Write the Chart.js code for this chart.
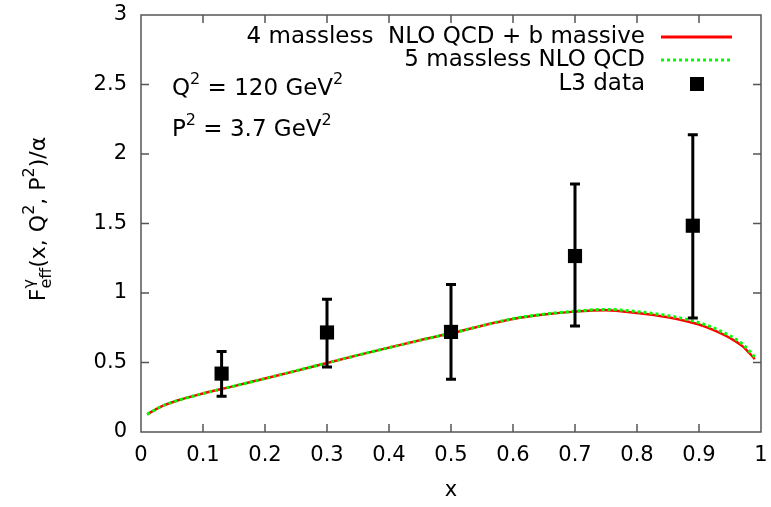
<!DOCTYPE html>
<html>
<head>
<meta charset="utf-8">
<script src="https://cdn.jsdelivr.net/npm/chart.js@4"></script>
<style>
  body { margin: 0; background: #fff; }
  canvas { display: block; }
</style>
</head>
<body>
<canvas id="f2chart" width="771" height="507"></canvas>
<script>
// curves
const curveX = [0.01, 0.03, 0.06, 0.1, 0.15, 0.2, 0.25, 0.3, 0.35, 0.4, 0.45, 0.5, 0.55, 0.6, 0.65, 0.7, 0.75, 0.8, 0.85, 0.88, 0.9, 0.92, 0.95, 0.97, 0.99];
const massiveY = [0.127, 0.178, 0.228, 0.277, 0.33, 0.385, 0.44, 0.497, 0.553, 0.607, 0.66, 0.71, 0.765, 0.813, 0.845, 0.866, 0.876, 0.856, 0.825, 0.797, 0.773, 0.74, 0.676, 0.618, 0.525];
const masslessY = [0.127, 0.178, 0.228, 0.277, 0.33, 0.385, 0.44, 0.497, 0.553, 0.607, 0.66, 0.71, 0.765, 0.815, 0.848, 0.869, 0.882, 0.866, 0.837, 0.81, 0.787, 0.755, 0.692, 0.634, 0.54];

// L3 data points with error bars
const dataX = [0.13, 0.30, 0.50, 0.70, 0.89];
const dataY = [0.42, 0.716, 0.72, 1.266, 1.484];
const errLow = [0.257, 0.468, 0.38, 0.762, 0.82];
const errHigh = [0.58, 0.955, 1.062, 1.785, 2.138];

const seriesLabels = ['4 massless  NLO QCD + b massive', '5 massless NLO QCD', 'L3 data'];

const FONT = '"DejaVu Sans", sans-serif';
const toPts = (xs, ys) => xs.map((x, i) => ({ x: x, y: ys[i] }));

// draws text pieces with sup/sub parts, returns end x
function richText(c, parts, x, y, big, small) {
  let cx = x;
  parts.forEach(p => {
    if (p[1] === 'sup') { c.font = small + 'px ' + FONT; c.fillText(p[0], cx, y - 11); }
    else if (p[1] === 'sub') { c.font = small + 'px ' + FONT; c.fillText(p[0], cx, y + 6); }
    else { c.font = big + 'px ' + FONT; c.fillText(p[0], cx, y); }
    if (!p[2]) cx += c.measureText(p[0]).width;
  });
  return cx;
}

const frame = {
  id: 'frame',
  afterDatasetsDraw(chart) {
    const c = chart.ctx, xs = chart.scales.x, ys = chart.scales.y;
    // error bars
    c.save();
    c.strokeStyle = '#000';
    c.lineWidth = 3;
    dataX.forEach((x, i) => {
      const px = xs.getPixelForValue(x);
      const top = ys.getPixelForValue(errHigh[i]);
      const bot = ys.getPixelForValue(errLow[i]);
      c.beginPath();
      c.moveTo(px, top); c.lineTo(px, bot);
      c.moveTo(px - 5, top); c.lineTo(px + 5, top);
      c.moveTo(px - 5, bot); c.lineTo(px + 5, bot);
      c.stroke();
    });
    c.restore();
  },
  afterDraw(chart) {
    const c = chart.ctx, a = chart.chartArea, xs = chart.scales.x, ys = chart.scales.y;
    c.save();
    c.strokeStyle = '#555';
    c.lineWidth = 1.5;
    c.strokeRect(a.left, a.top, a.right - a.left, a.bottom - a.top);
    c.beginPath();
    for (let i = 1; i < 10; i++) {
      const px = xs.getPixelForValue(i / 10);
      c.moveTo(px, a.bottom); c.lineTo(px, a.bottom - 8);
      c.moveTo(px, a.top); c.lineTo(px, a.top + 8);
    }
    for (let i = 1; i < 6; i++) {
      const py = ys.getPixelForValue(i / 2);
      c.moveTo(a.left, py); c.lineTo(a.left + 8, py);
      c.moveTo(a.right, py); c.lineTo(a.right - 8, py);
    }
    c.stroke();

    // legend
    c.fillStyle = '#000';
    c.font = '23px ' + FONT;
    c.textAlign = 'right';
    c.textBaseline = 'middle';
    const rows = [37, 60, 84];
    rows.forEach((y, i) => c.fillText(seriesLabels[i], 645, y));
    c.lineWidth = 3;
    c.strokeStyle = '#ff0000';
    c.beginPath(); c.moveTo(661, rows[0]); c.lineTo(732, rows[0]); c.stroke();
    c.strokeStyle = '#00ff00';
    c.setLineDash([3, 3]);
    c.beginPath(); c.moveTo(661, rows[1]); c.lineTo(732, rows[1]); c.stroke();
    c.setLineDash([]);
    c.fillRect(690, 77, 14, 14);

    // annotations
    c.textAlign = 'left';
    c.textBaseline = 'alphabetic';
    richText(c, [['Q', ''], ['2', 'sup'], [' = 120 GeV', ''], ['2', 'sup']], 172, 95, 23, 16);
    richText(c, [['P', ''], ['2', 'sup'], [' = 3.7 GeV', ''], ['2', 'sup']], 172, 136, 23, 16);

    // y axis title, rotated
    const parts = [['F', ''], ['γ', 'sup', true], ['eff', 'sub'], ['(x, Q', ''], ['2', 'sup'], [', P', ''], ['2', 'sup'], [')/α', '']];
    c.translate(45, 219);
    c.rotate(-Math.PI / 2);
    const w = richText(c, parts, 0, -1000, 22, 16);
    richText(c, parts, -w / 2, 0, 22, 16);
    c.restore();
  }
};

new Chart(document.getElementById('f2chart'), {
  type: 'scatter',
  data: {
    datasets: [
      {
        label: seriesLabels[2],
        data: toPts(dataX, dataY),
        pointStyle: 'rect',
        pointRadius: 10,
        pointHoverRadius: 10,
        backgroundColor: '#000',
        borderColor: '#000',
        borderWidth: 0,
        order: 0
      },
      {
        label: seriesLabels[1],
        data: toPts(curveX, masslessY),
        showLine: true,
        borderColor: '#00ff00',
        borderWidth: 3,
        borderDash: [3, 3],
        pointRadius: 0,
        cubicInterpolationMode: 'monotone',
        order: 1
      },
      {
        label: seriesLabels[0],
        data: toPts(curveX, massiveY),
        showLine: true,
        borderColor: '#ff0000',
        borderWidth: 2.5,
        pointRadius: 0,
        cubicInterpolationMode: 'monotone',
        order: 2
      }
    ]
  },
  options: {
    responsive: false,
    animation: false,
    layout: { padding: { top: 15, right: 9, left: 0, bottom: 0 } },
    plugins: { legend: { display: false }, tooltip: { enabled: false } },
    scales: {
      x: {
        min: 0, max: 1,
        grid: { display: false, drawTicks: false },
        border: { display: false },
        ticks: {
          stepSize: 0.1, padding: 11, color: '#000',
          font: { family: FONT, size: 21 },
          maxRotation: 0,
          callback: v => String(Math.round(v * 10) / 10)
        },
        title: { display: true, text: 'x', color: '#000', font: { family: FONT, size: 21 }, padding: { top: 4 } },
        afterFit: s => { s.height = 75; s.paddingLeft = 0; s.paddingRight = 0; }
      },
      y: {
        min: 0, max: 3,
        grid: { display: false, drawTicks: false },
        border: { display: false },
        ticks: {
          stepSize: 0.5, padding: 14, color: '#000',
          font: { family: FONT, size: 21 },
          callback: v => String(Math.round(v * 10) / 10)
        },
        afterFit: s => { s.width = 141; s.paddingTop = 0; s.paddingBottom = 0; }
      }
    }
  },
  plugins: [frame]
});
</script>
</body>
</html>
